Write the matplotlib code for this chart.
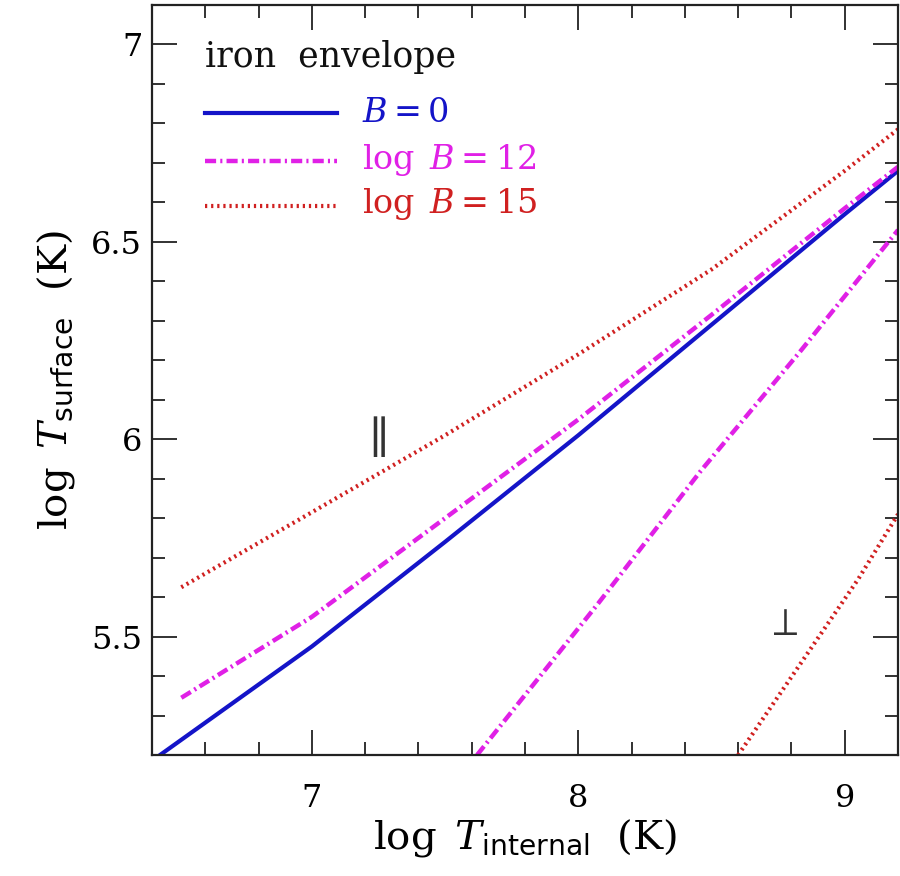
import numpy as np
import matplotlib.pyplot as plt
from matplotlib.ticker import MultipleLocator

# surface temperature vs internal temperature, iron envelope
# values (log10 K)
Ti_B0 = [6.43, 7.0, 7.5, 8.0, 8.5, 9.0, 9.2]
Ts_B0 = [5.20, 5.475, 5.74, 6.01, 6.29, 6.57, 6.68]

# log B = 12, field parallel
Ti_B12_par = [6.51, 7.0, 7.5, 8.0, 8.5, 9.0, 9.2]
Ts_B12_par = [5.345, 5.55, 5.80, 6.05, 6.315, 6.585, 6.69]
# log B = 12, field perpendicular
Ti_B12_perp = [7.62, 8.07, 8.46, 8.83, 9.2]
Ts_B12_perp = [5.20, 5.58, 5.92, 6.22, 6.53]

# log B = 15, parallel
Ti_B15_par = [6.51, 7.0, 7.5, 8.0, 8.5, 9.0, 9.2]
Ts_B15_par = [5.625, 5.815, 6.01, 6.215, 6.43, 6.68, 6.785]
# log B = 15, perpendicular
Ti_B15_perp = [8.6, 9.05, 9.2]
Ts_B15_perp = [5.20, 5.645, 5.81]

labels = [r'$B{=}0$', r'$\log\ B{=}12$', r'$\log\ B{=}15$']
blue = '#1414c8'
magenta = '#e020e6'
red = '#d02020'

plt.rcParams['font.family'] = 'DejaVu Serif'
plt.rcParams['mathtext.fontset'] = 'dejavuserif'
plt.rcParams['lines.scale_dashes'] = False

fig = plt.figure(figsize=(9, 8.76), dpi=100)
ax = fig.add_axes([0.1689, 0.1381, 0.8289, 0.8562])

dashdot = (0, (8, 3, 1.5, 3))
dotted = (0, (1.6, 2.8))

ax.plot(Ti_B0, Ts_B0, color=blue, lw=3)
ax.plot(Ti_B12_par, Ts_B12_par, color=magenta, lw=3.2, linestyle=dashdot)
ax.plot(Ti_B12_perp, Ts_B12_perp, color=magenta, lw=3.2, linestyle=dashdot)
ax.plot(Ti_B15_par, Ts_B15_par, color=red, lw=3, linestyle=dotted)
ax.plot(Ti_B15_perp, Ts_B15_perp, color=red, lw=3, linestyle=dotted)

ax.text(7.23, 6.0, r'$\parallel$', fontsize=32, ha='center', va='center', color='#333333')
ax.text(8.76, 5.53, r'$\perp$', fontsize=28, ha='center', va='center', color='#333333')

# hand-made legend (axes fraction)
ax.text(0.071, 0.917, 'iron  envelope', transform=ax.transAxes,
        fontsize=25, va='baseline', ha='left', color='#111111')
rows_line = [0.856, 0.792, 0.732]
rows_text = [0.844, 0.781, 0.723]
styles = [('-', blue, 3), (dashdot, magenta, 3.2), (dotted, red, 3)]
for (ls, c, lw), yl, yt, lab in zip(styles, rows_line, rows_text, labels):
    ax.plot([0.071, 0.248], [yl, yl], transform=ax.transAxes, color=c, lw=lw, linestyle=ls)
    ax.text(0.2815, yt, lab, transform=ax.transAxes, fontsize=24,
            va='baseline', ha='left', color=c)

ax.set_xlim(6.4, 9.2)
ax.set_ylim(5.2, 7.1)
ax.xaxis.set_major_locator(MultipleLocator(1))
ax.xaxis.set_minor_locator(MultipleLocator(0.2))
ax.yaxis.set_minor_locator(MultipleLocator(0.1))
ax.set_yticks([5.5, 6, 6.5, 7])
ax.set_yticklabels(['5.5', '6', '6.5', '7'])
ax.tick_params(which='both', direction='in', top=True, right=True, labelsize=23, width=1.3, color='#222222')
ax.tick_params(which='major', length=18)
ax.tick_params(which='minor', length=9.5)
ax.tick_params(axis='x', which='major', pad=20)
ax.tick_params(axis='y', which='major', pad=7)
for s in ax.spines.values():
    s.set_linewidth(1.6)
    s.set_color('#222222')

ax.set_xlabel(r'$\log\ T_{\mathsf{internal}}$  (K)', fontsize=29, labelpad=2)
ax.set_ylabel(r'$\log\ T_{\mathsf{surface}}$  (K)', fontsize=29, labelpad=10)

fig.savefig('out.png', dpi=100)
